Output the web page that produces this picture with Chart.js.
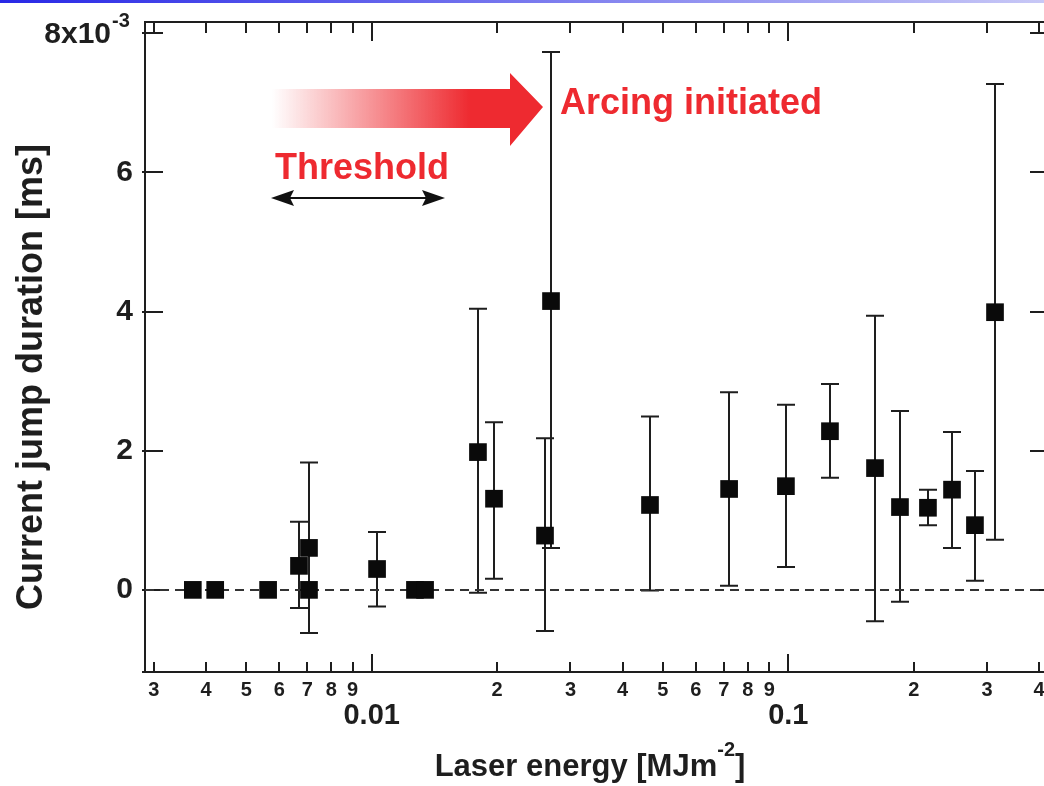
<!DOCTYPE html>
<html>
<head>
<meta charset="utf-8">
<script src="https://cdn.jsdelivr.net/npm/chart.js@4.4.1/dist/chart.umd.min.js"></script>
<style>
  html, body { margin: 0; padding: 0; background: #fff; }
  #wrap { position: relative; width: 1044px; height: 786px; }
  #topbar { position: absolute; left: 0; top: 0; width: 1044px; height: 3px;
    background: linear-gradient(to right, #2828e6, #c8c8f6); }
</style>
</head>
<body>
<div id="wrap">
  <canvas id="arcChart" width="1044" height="786"></canvas>
  <div id="topbar"></div>
</div>
<script>
// ----------------- Data -----------------
// laser energy [MJ m^-2]
const energy = [0.00372, 0.00421, 0.00564, 0.00669, 0.00707, 0.00707, 0.0103, 0.0127, 0.01343,
  0.01799, 0.01966, 0.02606, 0.02694, 0.04656, 0.0721, 0.0987, 0.1259, 0.1615, 0.1854,
  0.2164, 0.2472, 0.2806, 0.3135];
// current jump duration [ms]
const duration = [0, 0, 0, 0.345e-3, 0.603e-3, 0, 0.30e-3, 0, 0,
  1.98e-3, 1.31e-3, 0.78e-3, 4.15e-3, 1.22e-3, 1.45e-3, 1.49e-3, 2.28e-3, 1.75e-3, 1.19e-3,
  1.18e-3, 1.44e-3, 0.93e-3, 3.99e-3];
// error bar ends (null = no bar)
const errHigh = [null, null, null, 0.98e-3, 1.83e-3, null, 0.83e-3, null, null,
  4.04e-3, 2.41e-3, 2.18e-3, 7.73e-3, 2.49e-3, 2.84e-3, 2.66e-3, 2.96e-3, 3.94e-3, 2.57e-3,
  1.44e-3, 2.27e-3, 1.71e-3, 7.27e-3];
const errLow = [null, null, null, -0.26e-3, -0.62e-3, null, -0.24e-3, null, null,
  -0.04e-3, 0.16e-3, -0.59e-3, 0.60e-3, -0.01e-3, 0.06e-3, 0.33e-3, 1.61e-3, -0.45e-3, -0.17e-3,
  0.93e-3, 0.60e-3, 0.13e-3, 0.72e-3];

// ----------------- Axes -----------------
const xMin = 0.002856, xMax = 0.4110;
const yMin = -1.18e-3, yMax = 8.16e-3;
const xTickValues = [0.003, 0.004, 0.005, 0.006, 0.007, 0.008, 0.009, 0.01,
  0.02, 0.03, 0.04, 0.05, 0.06, 0.07, 0.08, 0.09, 0.1, 0.2, 0.3, 0.4];
const xTickLabels = ['3', '4', '5', '6', '7', '8', '9', ['', '0.01'],
  '2', '3', '4', '5', '6', '7', '8', '9', ['', '0.1'], '2', '3', '4'];
const xMajor = [0.01, 0.1];
const yTickValues = [0, 2e-3, 4e-3, 6e-3, 8e-3];
const yTickLabels = ['0', '2', '4', '6', ''];

const FONT = '"Liberation Sans", Arial, sans-serif';
const INK = '#1e1e1e';
const RED = '#ee2a30';

// ----------------- Plugins -----------------
const framePlugin = {
  id: 'frame',
  beforeDatasetsDraw(chart) {
    const { ctx, chartArea: a, scales: { x, y } } = chart;
    ctx.save();
    ctx.strokeStyle = INK;
    ctx.lineWidth = 2;
    ctx.beginPath();
    ctx.moveTo(a.left, a.bottom);
    ctx.lineTo(a.left, a.top);
    ctx.lineTo(a.right, a.top);
    ctx.moveTo(a.left - 3, a.bottom);
    ctx.lineTo(a.right, a.bottom);
    xTickValues.forEach(v => {
      const px = Math.round(x.getPixelForValue(v));
      const len = xMajor.includes(v) ? 18 : 10;
      ctx.moveTo(px, a.bottom);
      ctx.lineTo(px, a.bottom - len);
      ctx.moveTo(px, a.top);
      ctx.lineTo(px, a.top + len + 1);
    });
    yTickValues.forEach(v => {
      const py = Math.round(y.getPixelForValue(v));
      ctx.moveTo(a.left - 3, py);
      ctx.lineTo(a.left + 18, py);
      ctx.moveTo(a.right, py);
      ctx.lineTo(a.right - 14, py);
    });
    ctx.stroke();

    // error bars
    ctx.beginPath();
    energy.forEach((e, i) => {
      if (errHigh[i] == null) return;
      const px = Math.round(x.getPixelForValue(e));
      const top = y.getPixelForValue(errHigh[i]);
      const bot = y.getPixelForValue(errLow[i]);
      ctx.moveTo(px, top);
      ctx.lineTo(px, bot);
      ctx.moveTo(px - 9, top);
      ctx.lineTo(px + 9, top);
      ctx.moveTo(px - 9, bot);
      ctx.lineTo(px + 9, bot);
    });
    ctx.stroke();
    ctx.restore();
  },
  afterDraw(chart) {
    const { ctx, scales: { y } } = chart;
    ctx.save();
    ctx.fillStyle = INK;

    // top y label 8x10^-3
    const py = y.getPixelForValue(8e-3);
    ctx.font = 'bold 30px ' + FONT;
    ctx.textAlign = 'right';
    ctx.textBaseline = 'middle';
    ctx.fillText('8x10', 111, py + 2);
    ctx.font = 'bold 20px ' + FONT;
    ctx.textAlign = 'left';
    ctx.fillText('-3', 112, py - 12);

    // y title
    ctx.save();
    ctx.translate(42, 377);
    ctx.rotate(-Math.PI / 2);
    ctx.font = 'bold 36px ' + FONT;
    ctx.textAlign = 'center';
    ctx.textBaseline = 'alphabetic';
    ctx.fillText('Current jump duration [ms]', 0, 0);
    ctx.restore();

    // x title with superscript
    ctx.textBaseline = 'alphabetic';
    ctx.textAlign = 'left';
    const main = 'Laser energy [MJm', sup = '-2', end = ']';
    ctx.font = 'bold 31px ' + FONT;
    const wMain = ctx.measureText(main).width, wEnd = ctx.measureText(end).width;
    ctx.font = 'bold 20px ' + FONT;
    const wSup = ctx.measureText(sup).width;
    const x0 = 590 - (wMain + wSup + wEnd) / 2;
    ctx.font = 'bold 31px ' + FONT;
    ctx.fillText(main, x0, 776);
    ctx.fillText(end, x0 + wMain + wSup, 776);
    ctx.font = 'bold 20px ' + FONT;
    ctx.fillText(sup, x0 + wMain, 756);

    // red gradient arrow
    const g = ctx.createLinearGradient(272, 0, 470, 0);
    g.addColorStop(0, 'rgba(238,42,48,0)');
    g.addColorStop(1, 'rgba(238,42,48,1)');
    ctx.fillStyle = g;
    ctx.beginPath();
    ctx.moveTo(272, 89);
    ctx.lineTo(510, 89);
    ctx.lineTo(510, 73);
    ctx.lineTo(543, 107);
    ctx.lineTo(510, 146);
    ctx.lineTo(510, 128);
    ctx.lineTo(272, 128);
    ctx.closePath();
    ctx.fill();

    ctx.fillStyle = RED;
    ctx.font = 'bold 36px ' + FONT;
    ctx.fillText('Arcing initiated', 560, 114);
    ctx.fillText('Threshold', 275, 179);

    // double arrow
    ctx.strokeStyle = '#111';
    ctx.fillStyle = '#111';
    ctx.lineWidth = 2;
    ctx.beginPath();
    ctx.moveTo(285, 198);
    ctx.lineTo(430, 198);
    ctx.stroke();
    ctx.beginPath();
    ctx.moveTo(271, 198); ctx.lineTo(294, 190); ctx.lineTo(290, 198); ctx.lineTo(294, 206); ctx.closePath();
    ctx.moveTo(445, 198); ctx.lineTo(422, 190); ctx.lineTo(426, 198); ctx.lineTo(422, 206); ctx.closePath();
    ctx.fill();
    ctx.restore();
  }
};

// ----------------- Chart -----------------
const ctx = document.getElementById('arcChart').getContext('2d');
new Chart(ctx, {
  data: {
    datasets: [{
      type: 'scatter',
      label: 'Current jump duration',
      data: energy.map((e, i) => ({ x: e, y: duration[i] })),
      pointStyle: 'rect',
      pointRadius: 12.5,
      pointHoverRadius: 12.5,
      backgroundColor: '#0a0a0a',
      borderColor: '#0a0a0a',
      borderWidth: 0
    }, {
      type: 'line',
      label: 'zero',
      data: [{ x: xMin, y: 0 }, { x: xMax, y: 0 }],
      borderColor: '#333',
      borderWidth: 2,
      borderDash: [9, 6],
      pointRadius: 0
    }]
  },
  options: {
    responsive: false,
    animation: false,
    devicePixelRatio: 1,
    layout: { autoPadding: false, padding: { top: 22, left: 0, right: 0, bottom: 0 } },
    plugins: { legend: { display: false }, tooltip: { enabled: false } },
    scales: {
      x: {
        type: 'logarithmic',
        min: xMin,
        max: xMax,
        grid: { display: false, drawTicks: false },
        border: { display: false },
        afterBuildTicks: s => { s.ticks = xTickValues.map(v => ({ value: v })); },
        afterFit: s => { s.height = 114; s.paddingLeft = 0; s.paddingRight = 0; },
        ticks: {
          autoSkip: false,
          maxRotation: 0,
          minRotation: 0,
          padding: 6,
          color: INK,
          font: c => (c.tick && xMajor.includes(c.tick.value))
            ? { family: FONT, size: 29, weight: 'bold', lineHeight: 0.87 }
            : { family: FONT, size: 20, weight: 'bold' },
          callback: (v, i) => xTickLabels[i]
        }
      },
      y: {
        type: 'linear',
        min: yMin,
        max: yMax,
        grid: { display: false, drawTicks: false },
        border: { display: false },
        afterBuildTicks: s => { s.ticks = yTickValues.map(v => ({ value: v })); },
        afterFit: s => { s.width = 145; s.paddingTop = 0; s.paddingBottom = 0; },
        ticks: {
          padding: 12,
          color: INK,
          font: { family: FONT, size: 30, weight: 'bold' },
          callback: (v, i) => yTickLabels[i]
        }
      }
    }
  },
  plugins: [framePlugin]
});
</script>
</body>
</html>
